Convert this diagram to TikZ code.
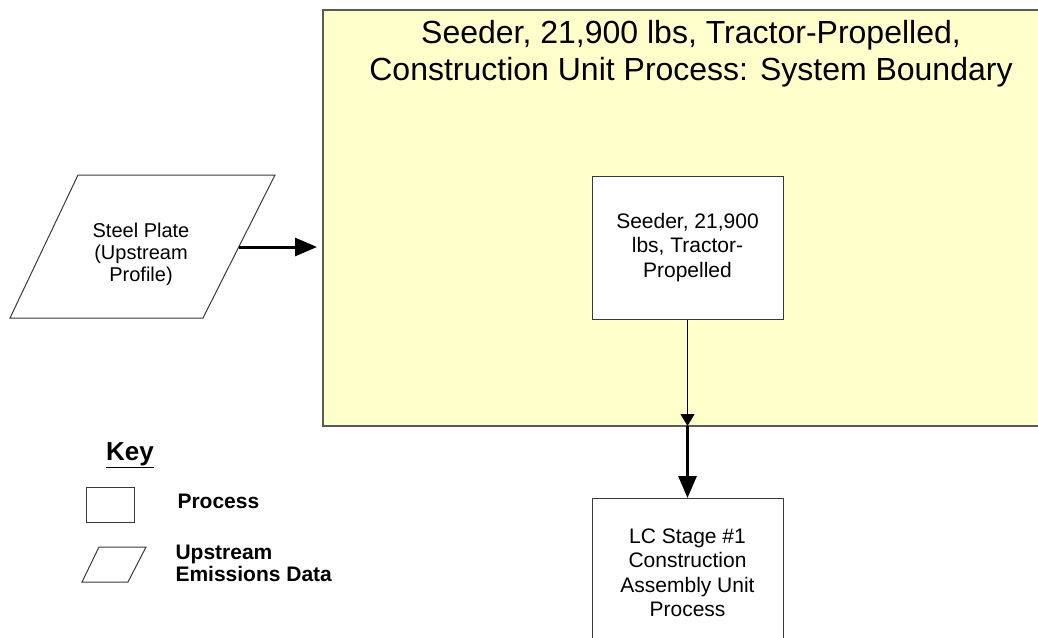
\documentclass[tikz,border=0pt]{standalone}
\usepackage{fontspec}
\setmainfont{Liberation Sans}
\usetikzlibrary{arrows.meta}
\definecolor{bfill}{HTML}{FFFFCC}
\definecolor{bline}{HTML}{5A5A5A}
\definecolor{eline}{HTML}{3A3A3A}
\tikzset{
  procbox/.style={draw=eline, line width=1pt, fill=white, align=center,
    font=\fontsize{21}{24.5}\selectfont},
  thickarrow/.style={line width=3pt, -{Triangle[length=22pt,width=18pt]}},
  thinarrow/.style={line width=0.8pt, -{Triangle[length=12pt,width=14pt]}},
  keytext/.style={font=\bfseries\fontsize{21}{22}\selectfont, align=left, anchor=west},
  upshape/.style={draw=eline, line width=1pt, fill=white},
}
\begin{document}
\begin{tikzpicture}[x=1pt,y=-1pt]
\useasboundingbox (0,0) rectangle (1038,637);
% system boundary
\fill[bfill] (323,10) rectangle (1038,426);
\draw[bline, line width=1.5pt] (1038,10) -- (323,10) -- (323,426) -- (1038,426);
\node[font=\fontsize{32}{37}\selectfont, align=center] (title) at (691,53.5)
  {Seeder, 21,900 lbs, Tractor-Propelled,\\Construction Unit Process: System Boundary};
% steel plate (upstream)
\draw[upshape] (78,175) -- (275,175) -- (203,318) -- (10,318) -- cycle;
\node[align=center, font=\fontsize{20}{22}\selectfont] (steel) at (141,254)
  {Steel Plate\\(Upstream\\Profile)};
\coordinate (steelR) at (238.8,247);
\coordinate (bndL) at (317,247);
\draw[thickarrow] (steelR) -- (bndL);
% processes
\node[procbox, minimum width=191pt, minimum height=143pt] (seeder) at (687.5,247.5)
  {Seeder, 21,900\\lbs, Tractor-\\Propelled};
\node[procbox, minimum width=191pt, minimum height=150pt, anchor=north] (lc) at (687.5,498)
  {};
\node[align=center, font=\fontsize{21}{24.5}\selectfont] (lctext) at (687.5,573)
  {LC Stage \#1\\Construction\\Assembly Unit\\Process};
\coordinate (bndB) at (687.5,426);
\draw[thinarrow] (seeder.south) -- (bndB);
\draw[thickarrow] (bndB) -- (lc.north);
% key
\node[font=\bfseries\fontsize{26}{30}\selectfont] (key) at (130,455) {\underline{Key}};
\node[draw=eline, line width=1pt, minimum width=48pt, minimum height=35pt] (keyproc) at (110,504.5) {};
\node[keytext] (keyproclabel) at (174,501) {Process};
\draw[upshape] (99,547) -- (146,547) -- (128,582) -- (82,582) -- cycle;
\node[keytext] (keyuplabel) at (172,563) {Upstream\\Emissions Data};
\end{tikzpicture}
\end{document}
